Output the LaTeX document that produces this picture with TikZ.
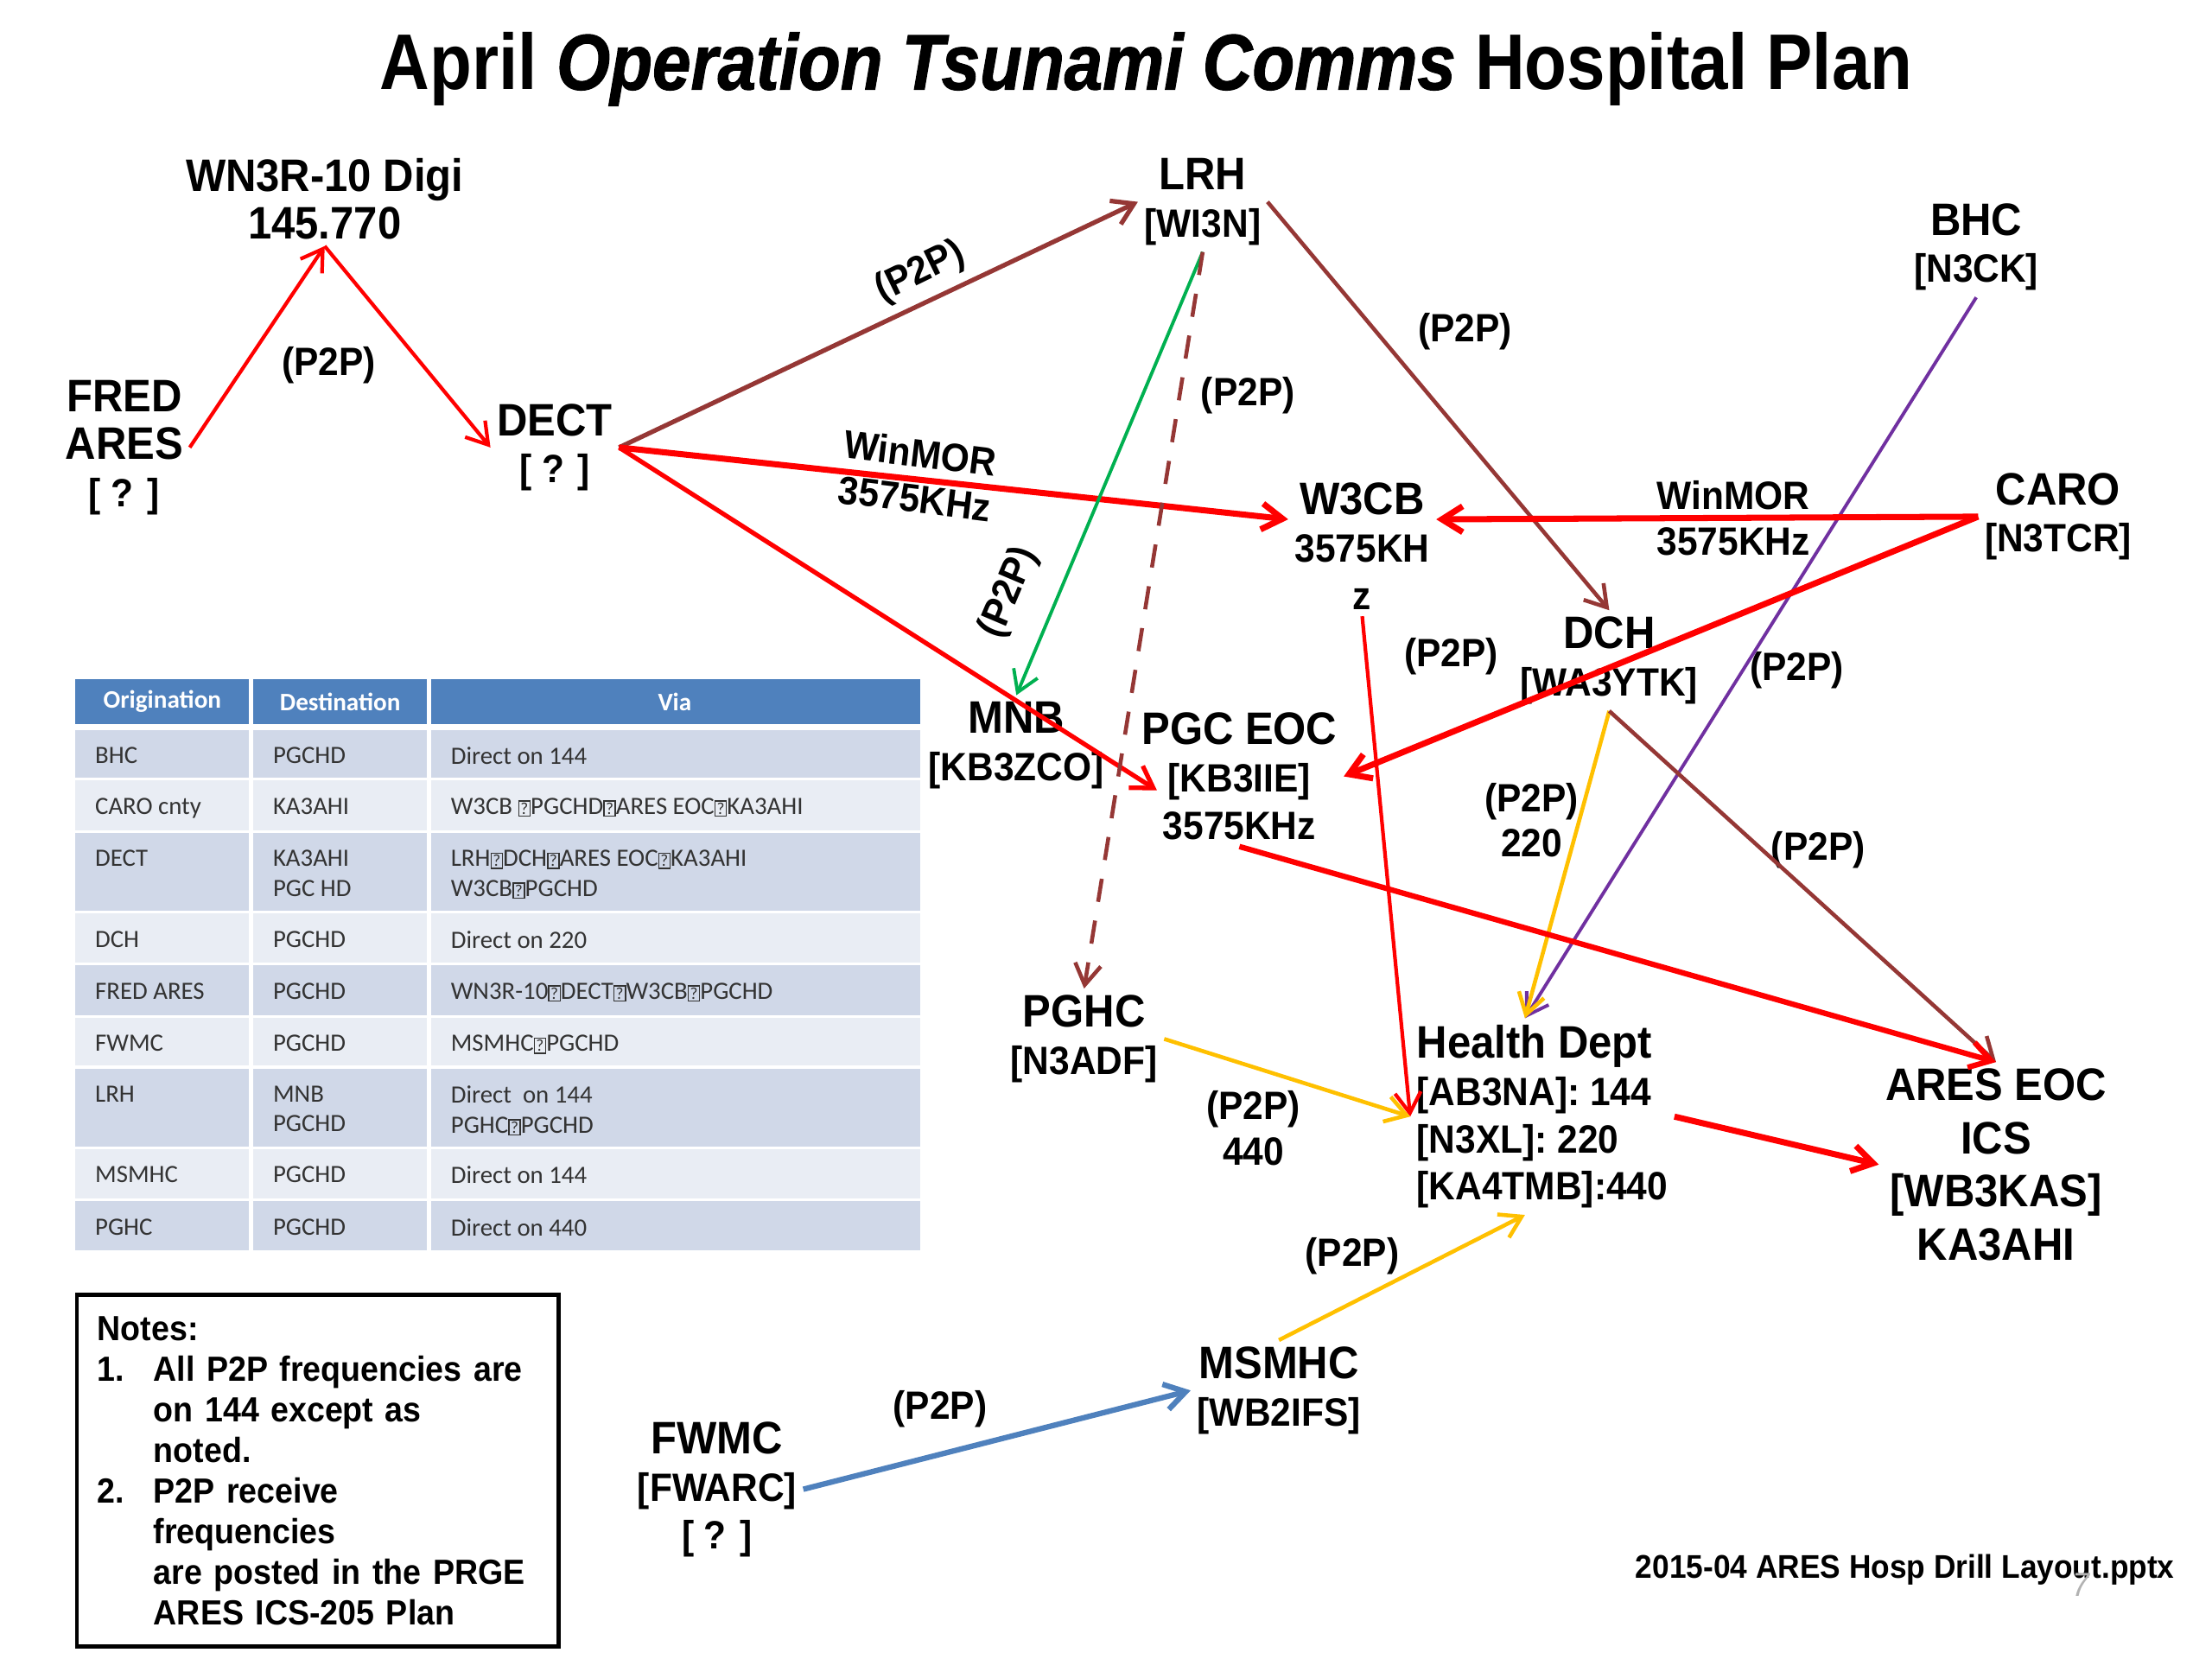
\documentclass[tikz,border=0pt]{standalone}
\usepackage{fontspec}
\setmainfont[FakeStretch=0.93]{Liberation Sans}
\newfontfamily\titlefont[FakeStretch=0.875]{Liberation Sans}
\newfontfamily\titleheavy[FakeStretch=0.875, FakeBold=1.2]{Liberation Sans}
\newfontfamily\tabfont{Carlito}
\usetikzlibrary{arrows.meta,positioning}

\definecolor{p2pred}{HTML}{FF0000}
\definecolor{p2pbrown}{HTML}{953735}
\definecolor{p2pgreen}{HTML}{00B050}
\definecolor{p2ppurple}{HTML}{7030A0}
\definecolor{p2pyellow}{HTML}{FFC000}
\definecolor{p2pblue}{HTML}{4F81BD}
\definecolor{tabhead}{HTML}{4F81BD}
\definecolor{rowdark}{HTML}{D0D8E8}
\definecolor{rowlight}{HTML}{E9EDF4}

\newcommand{\subl}[1]{{\fontsize{13}{15.6}\selectfont #1}}
\newcommand{\nog}{{\setlength{\fboxsep}{0.4pt}\setlength{\fboxrule}{0.4pt}\fbox{\fontsize{5.5}{5.5}\selectfont ?}}}
\newcommand{\noteind}{\hspace*{18.5pt}}
\newcommand{\notenum}[1]{\makebox[18.5pt][l]{#1}}

\begin{document}
\begin{tikzpicture}[x=0.01634cm, y=-0.01634cm,
		site/.style={align=center, inner sep=2pt, font=\fontsize{15}{15.6}\selectfont\bfseries},
		lbl/.style={align=center, inner sep=1pt, font=\fontsize{13}{15}\selectfont\bfseries},
		link/.style={-{Straight Barb[length=2.4mm,width=3mm]}, line width=1.2pt},
		cell/.style={anchor=north west, inner sep=0pt, align=left, text=black!80, font=\tabfont\fontsize{8.2}{9.8}\selectfont},
		head/.style={text=white, inner sep=0pt, font=\tabfont\bfseries\fontsize{8.3}{10}\selectfont}
	]
	\useasboundingbox (0,0) rectangle (1567,1175);

	% Title
	\node[font=\titlefont\fontsize{26}{30}\selectfont\bfseries] (title) at (812,49) {April {\titleheavy\bfseries\itshape Operation Tsunami Comms} Hospital Plan};

	% Stations
	\node[site] (wn3r) at (230,141) {WN3R-10 Digi\\145.770};
	\node[site] (fred) at (88,317) {FRED\\ARES\\\subl{[ ? ]}};
	\node[site] (dect) at (393,317) {DECT\\\subl{[ ? ]}};
	\node[site] (lrh) at (852,143) {LRH\\\subl{[WI3N]}};
	\node[site] (bhc) at (1400,175) {BHC\\\subl{[N3CK]}};
	\node[site] (caro) at (1458,366) {CARO\\\subl{[N3TCR]}};
	\node[site] (w3cb) at (965,387) {W3CB\\\subl{3575KH}\\\subl{z}};
	\node[site] (dch) at (1140,468) {DCH\\\subl{[WA3YTK]}};
	\node[site] (mnb) at (720,528) {MNB\\\subl{[KB3ZCO]}};
	\node[site] (pgceoc) at (878,550) {PGC EOC\\\subl{[KB3IIE]}\\\subl{3575KHz}};
	\node[site] (pghc) at (768,736) {PGHC\\\subl{[N3ADF]}};
	\node[site, align=left, anchor=west] (health) at (999,791) {Health Dept\\\subl{[AB3NA]: 144}\\\subl{[N3XL]: 220}\\\subl{[KA4TMB]:440}};
	\node[site, font=\fontsize{15}{17.5}\selectfont\bfseries] (ares) at (1414,825) {ARES EOC\\ICS\\{[WB3KAS]}\\KA3AHI};
	\node[site] (msmhc) at (906,985) {MSMHC\\\subl{[WB2IFS]}};
	\node[site] (fwmc) at (508,1055) {FWMC\\\subl{[FWARC]}\\\subl{[ ? ]}};

	% Link labels
	\node[lbl] (l1) at (233,259) {(P2P)};
	\node[lbl, rotate=26] (l2) at (652,193) {(P2P)};
	\node[lbl, rotate=-7] (l3) at (650,337) {WinMOR\\3575KHz};
	\node[lbl] (l4) at (1038,235) {(P2P)};
	\node[lbl] (l5) at (884,280) {(P2P)};
	\node[lbl, rotate=67] (l6) at (715,420) {(P2P)};
	\node[lbl] (l7) at (1228,367) {WinMOR\\3575KHz};
	\node[lbl] (l8) at (1028,465) {(P2P)};
	\node[lbl] (l9) at (1273,475) {(P2P)};
	\node[lbl] (l10) at (1085,581) {(P2P)\\220};
	\node[lbl] (l11) at (1288,602) {(P2P)};
	\node[lbl] (l12) at (888,799) {(P2P)\\440};
	\node[lbl] (l13) at (958,890) {(P2P)};
	\node[lbl] (l14) at (666,998) {(P2P)};

	% Links
	\draw[link, p2pred] (fred.east) -- (wn3r.south);
	\draw[link, p2pred] (wn3r.south) -- (dect.west);
	\draw[link, p2pbrown, line width=1.5pt] (dect.east) -- (lrh.west);
	\draw[link, p2pred, line width=2pt] (dect.east) -- (w3cb.160);
	\draw[link, p2pred, line width=1.5pt, shorten >=-3mm] (dect.east) -- (pgceoc.west);
	\draw[link, p2pgreen, line width=1.1pt] (lrh.south) -- (mnb.north);
	\draw[link, p2pbrown, line width=1.3pt, dash pattern=on 2.7mm off 2.2mm] (lrh.south) -- (pghc.north);
	\draw[link, p2pbrown, line width=1.3pt] (lrh.east) -- (dch.north);
	\draw[link, p2ppurple, line width=1.1pt] (bhc.south) -- (health.100);
	\draw[link, p2pred, line width=2pt] (caro.west) -- (w3cb.20);
	\draw[link, p2pred, line width=2pt] (caro.west) -- (pgceoc.east);
	\draw[link, p2pred] (w3cb.south) -- (health.west);
	\draw[link, p2pyellow, line width=1.3pt] (dch.south) -- (health.100);
	\draw[link, p2pbrown, line width=1.3pt] (dch.south) -- (ares.north);
	\draw[link, p2pred, line width=1.8pt] (pgceoc.south) -- (ares.north);
	\draw[link, p2pyellow, line width=1.3pt] (pghc.east) -- (health.west);
	\draw[link, p2pred, line width=2pt] (health.east) -- (ares.west);
	\draw[link, p2pyellow, line width=1.3pt] (msmhc.north) -- (health.260);
	\draw[link, p2pblue, line width=1.8pt] (fwmc.east) -- (msmhc.west);

	% Routing table
	\fill[tabhead] (53,481) rectangle (652,513);
	\node[head] (hOrig) at (115,497) {Origination};
	\node[head] (hDest) at (241,497) {Destination};
	\node[head] (hVia) at (478,497) {Via};
	\foreach \ya/\yb/\rowc/\org/\dst/\via [count=\r] in {
			517/551/rowdark/BHC/PGCHD/Direct on 144,
			553/588/rowlight/CARO cnty/KA3AHI/W3CB \nog PGCHD\nog ARES EOC\nog KA3AHI,
			590/645/rowdark/DECT/{KA3AHI\\PGC HD}/{LRH\nog DCH\nog ARES EOC\nog KA3AHI\\W3CB\nog PGCHD},
			647/682/rowlight/DCH/PGCHD/Direct on 220,
			684/719/rowdark/FRED ARES/PGCHD/WN3R-10\nog DECT\nog W3CB\nog PGCHD,
			721/755/rowlight/FWMC/PGCHD/MSMHC\nog PGCHD,
			757/812/rowdark/LRH/{MNB\\PGCHD}/{Direct~ on 144\\PGHC\nog PGCHD},
			814/849/rowlight/MSMHC/PGCHD/Direct on 144,
			851/886/rowdark/PGHC/PGCHD/Direct on 440}
		{
			\fill[\rowc] (53,\ya) rectangle (652,\yb);
			\node[cell] (org\r) at (67,\ya+12) {\org};
			\node[cell] (dst\r) at (193,\ya+12) {\dst};
			\node[cell] (via\r) at (319,\ya+12) {\via};
		}
	\draw[white, line width=1.5pt] (178,481) -- (178,886) (304,481) -- (304,886);

	% Notes
	\node[draw, line width=1.3pt, anchor=north west, align=left, text width=5.1cm, minimum height=4.07cm, inner xsep=0.24cm,
		font=\fontsize{11.5}{13.4}\selectfont\bfseries] (notes) at (53,916) {Notes:\\
		\notenum{1.}All P2P frequencies are\\
		\noteind on 144 except as\\
		\noteind noted.\\
		\notenum{2.}P2P receive\\
		\noteind frequencies\\
		\noteind are posted in the PRGE\\
		\noteind ARES ICS-205 Plan};

	% Footer
	\node[anchor=east, font=\fontsize{10.8}{12}\selectfont\bfseries] (footer) at (1548,1112) {2015-04 ARES Hosp Drill Layout.pptx};
	\node[text=gray!60, font=\fontsize{11}{12}\selectfont\itshape] (slideno) at (1474,1123) {7};

\end{tikzpicture}
\end{document}
